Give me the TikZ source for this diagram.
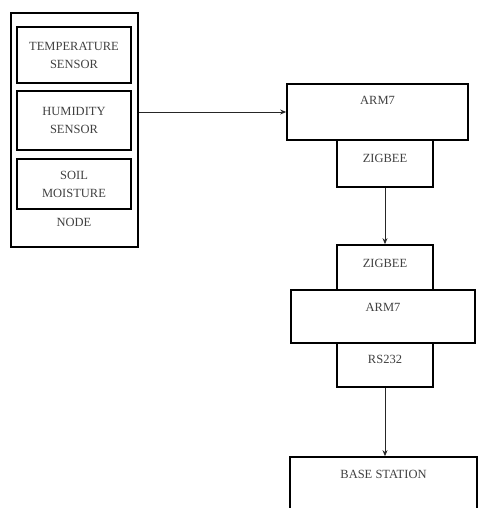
\documentclass[tikz,border=0pt]{standalone}
\usepackage{fontspec}
\setmainfont{Liberation Serif}
\usetikzlibrary{arrows.meta}
\begin{document}
\begin{tikzpicture}[x=1pt,y=-1pt,
  blk/.style={draw=black, line width=1.7pt, rectangle, inner sep=0pt, align=center,
    text=black!75, font=\fontsize{12.5}{18}\selectfont},
  lbl/.style={text=black!75, font=\fontsize{12.5}{18}\selectfont, inner sep=0pt},
  conn/.style={draw=black!85, line width=0.8pt, -{Stealth[length=6pt,width=5pt]}}]
\useasboundingbox (0,0) rectangle (482,508);
% sensor node
\node[blk, minimum width=127pt, minimum height=234pt] (node) at (74.5,130) {};
\node[blk, minimum width=114pt, minimum height=56pt] (temp) at (74,55) {TEMPERATURE\\SENSOR};
\node[blk, minimum width=114pt, minimum height=59pt] (hum) at (74,120.5) {HUMIDITY\\SENSOR};
\node[blk, minimum width=114pt, minimum height=50pt] (soil) at (74,184) {SOIL\\MOISTURE};
\node[lbl] (nodelbl) at (74,222) {NODE};
% first ARM7
\node[blk, minimum width=181pt, minimum height=56pt] (arma) at (377.5,112) {};
\node[lbl] (armalbl) at (377.5,100) {ARM7};
\node[blk, minimum width=96pt, minimum height=47pt] (zba) at (385,163.5) {};
\node[lbl] (zbalbl) at (385,158) {ZIGBEE};
% second ARM7
\node[blk, minimum width=96pt, minimum height=45pt] (zbb) at (385,267.5) {};
\node[lbl] (zbblbl) at (385,263) {ZIGBEE};
\node[blk, minimum width=184pt, minimum height=53pt] (armb) at (383,316.5) {};
\node[lbl] (armblbl) at (383,307) {ARM7};
\node[blk, minimum width=96pt, minimum height=44pt] (rs) at (385,365) {};
\node[lbl] (rslbl) at (385,359) {RS232};
% base station (cut by the lower edge)
\node[blk, minimum width=187pt, minimum height=60pt] (base) at (383.5,487) {};
\node[lbl] (baselbl) at (383.5,474) {BASE STATION};
% connectors
\draw[conn] (node.east |- arma.west) -- (arma.west);
\draw[conn] (zba.south) -- (zbb.north);
\draw[conn] (rs.south) -- (base.north -| rs.south);
\end{tikzpicture}
\end{document}
